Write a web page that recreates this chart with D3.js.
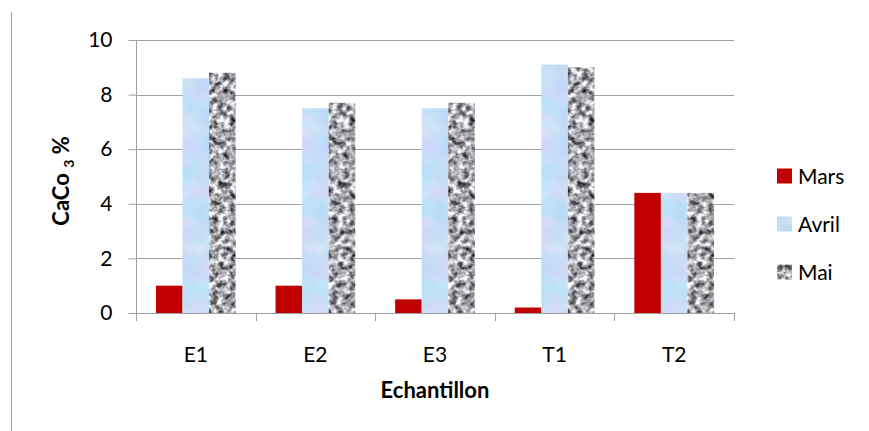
<!DOCTYPE html>
<html>
<head>
<meta charset="utf-8">
<script src="https://cdn.jsdelivr.net/npm/d3@7"></script>
<style>
  html, body { margin: 0; padding: 0; background: #fff; }
  svg { display: block; font-family: Lato, "Open Sans", sans-serif; }
</style>
</head>
<body>
<svg id="chart" width="869" height="431"></svg>
<script>
// Sample categories and monthly CaCO3 percentages
const categories = ["E1", "E2", "E3", "T1", "T2"];
const seriesNames = ["Mars", "Avril", "Mai"];
const mars  = [1.0, 1.0, 0.5, 0.2, 4.4];
const avril = [8.6, 7.5, 7.5, 9.1, 4.4];
const mai   = [8.8, 7.7, 7.7, 9.0, 4.4];
const yTicks = [0, 2, 4, 6, 8, 10];

const seriesValues = [mars, avril, mai];
const fills = ["#c00000", "url(#pat-avril)", "url(#pat-mai)"];

const svg = d3.select("#chart");
const W = 869, H = 431;
const plot = { left: 136, right: 734, top: 40, bottom: 313 };
const FONT = "Lato, 'Open Sans', sans-serif";

// --- texture definitions ---
const defs = svg.append("defs");

// light blue, softly mottled fill
const fA = defs.append("filter").attr("id", "tex-avril")
  .attr("filterUnits", "userSpaceOnUse")
  .attr("color-interpolation-filters", "sRGB")
  .attr("x", 0).attr("y", 0).attr("width", W).attr("height", H);
fA.append("feTurbulence").attr("type", "fractalNoise")
  .attr("baseFrequency", 0.05).attr("numOctaves", 2).attr("seed", 3).attr("result", "n");
fA.append("feColorMatrix").attr("in", "n").attr("type", "matrix")
  .attr("values", "0.22 0 0 0 0.67  0 0.1 0 0 0.82  0 0 0.06 0 0.94  0 0 0 0 1");

// granite-like grey fill
const fM = defs.append("filter").attr("id", "tex-mai")
  .attr("filterUnits", "userSpaceOnUse")
  .attr("color-interpolation-filters", "sRGB")
  .attr("x", 0).attr("y", 0).attr("width", W).attr("height", H);
fM.append("feTurbulence").attr("type", "fractalNoise")
  .attr("baseFrequency", 0.17).attr("numOctaves", 3).attr("seed", 7).attr("result", "n");
fM.append("feColorMatrix").attr("in", "n").attr("type", "matrix").attr("result", "g")
  .attr("values", "1.7 0 0 0 -0.2  1.7 0 0 0 -0.2  1.7 0 0 0 -0.18  0 0 0 0 1");
fM.append("feGaussianBlur").attr("in", "g").attr("stdDeviation", 0.5);

// patterns that hold a filtered rect covering the whole canvas
[["pat-avril", "tex-avril"], ["pat-mai", "tex-mai"]].forEach(([pid, fid]) => {
  const p = defs.append("pattern").attr("id", pid)
    .attr("patternUnits", "userSpaceOnUse")
    .attr("x", 0).attr("y", 0).attr("width", W).attr("height", H);
  p.append("rect").attr("width", W).attr("height", H).attr("filter", `url(#${fid})`);
});

// --- outer left border line ---
svg.append("line")
  .attr("x1", 11.5).attr("x2", 11.5).attr("y1", 12).attr("y2", 431)
  .attr("stroke", "#a6a6a6").attr("stroke-width", 1);

// --- scales ---
const x0 = d3.scaleBand().domain(categories)
  .range([plot.left, plot.right]).paddingInner(0).paddingOuter(0);
const x1 = d3.scaleBand().domain(seriesNames)
  .range([0, x0.bandwidth()]).paddingInner(0).paddingOuter(0.75);
const y = d3.scaleLinear().domain([0, 10]).range([plot.bottom, plot.top]);

// --- gridlines ---
svg.append("g").selectAll("line").data(yTicks).join("line")
  .attr("x1", plot.left).attr("x2", plot.right)
  .attr("y1", d => Math.round(y(d)) + 0.5).attr("y2", d => Math.round(y(d)) + 0.5)
  .attr("stroke", "#a0a0a0").attr("stroke-width", 1);

// --- bars ---
const groups = svg.append("g").selectAll("g").data(categories).join("g")
  .attr("transform", c => `translate(${x0(c)},0)`);
groups.selectAll("rect")
  .data((c, i) => seriesNames.map((s, k) => ({ s, k, v: seriesValues[k][i] })))
  .join("rect")
  .attr("x", d => x1(d.s))
  .attr("width", x1.bandwidth())
  .attr("y", d => y(d.v))
  .attr("height", d => y(0) - y(d.v))
  .attr("fill", d => fills[d.k]);

// --- y axis ---
const yAxis = svg.append("g")
  .attr("transform", `translate(${plot.left + 0.5},0)`)
  .call(d3.axisLeft(y).tickValues(yTicks).tickSize(8).tickPadding(16).tickFormat(d3.format("d")));
yAxis.select(".domain").attr("stroke", "#a0a0a0").attr("d", `M0,${plot.top}V${plot.bottom}`);
yAxis.selectAll(".tick line").attr("stroke", "#a0a0a0");
yAxis.selectAll(".tick text").attr("font-size", 21).attr("fill", "#000")
  .attr("font-family", FONT);

// --- x axis ---
const xAxis = svg.append("g")
  .attr("transform", `translate(0,${plot.bottom + 0.5})`)
  .call(d3.axisBottom(x0).tickSize(0).tickPadding(34));
xAxis.select(".domain").attr("stroke", "#a0a0a0").attr("d", `M${plot.left},0H${plot.right}`);
xAxis.selectAll(".tick text").attr("font-size", 21).attr("fill", "#000")
  .attr("font-family", FONT);
// category boundary ticks
const bounds = categories.map(c => x0(c)).concat([plot.right]);
svg.append("g").selectAll("line").data(bounds).join("line")
  .attr("x1", d => Math.round(d) + 0.5).attr("x2", d => Math.round(d) + 0.5)
  .attr("y1", plot.bottom).attr("y2", plot.bottom + 8)
  .attr("stroke", "#a0a0a0");

// --- axis titles ---
svg.append("text")
  .attr("x", (plot.left + plot.right) / 2).attr("y", 398)
  .attr("text-anchor", "middle").attr("font-size", 22).attr("font-weight", "bold")
  .text("Echantillon");

const yt = svg.append("text")
  .attr("transform", "translate(69,181) rotate(-90)")
  .attr("text-anchor", "middle").attr("font-size", 22).attr("font-weight", "bold");
yt.append("tspan").text("CaCo ");
yt.append("tspan").attr("font-size", 14).attr("dy", 5).text("3");
yt.append("tspan").attr("dy", -5).text(" %");

// --- legend ---
const legend = svg.append("g").selectAll("g").data(seriesNames).join("g")
  .attr("transform", (d, i) => `translate(777,${176 + i * 48})`);
legend.append("rect")
  .attr("x", 0).attr("y", -7.5).attr("width", 15).attr("height", 15)
  .attr("fill", (d, i) => fills[i]);
legend.append("text")
  .attr("x", 21).attr("y", 8)
  .attr("font-size", 21).attr("fill", "#000")
  .text(d => d);
</script>
</body>
</html>
